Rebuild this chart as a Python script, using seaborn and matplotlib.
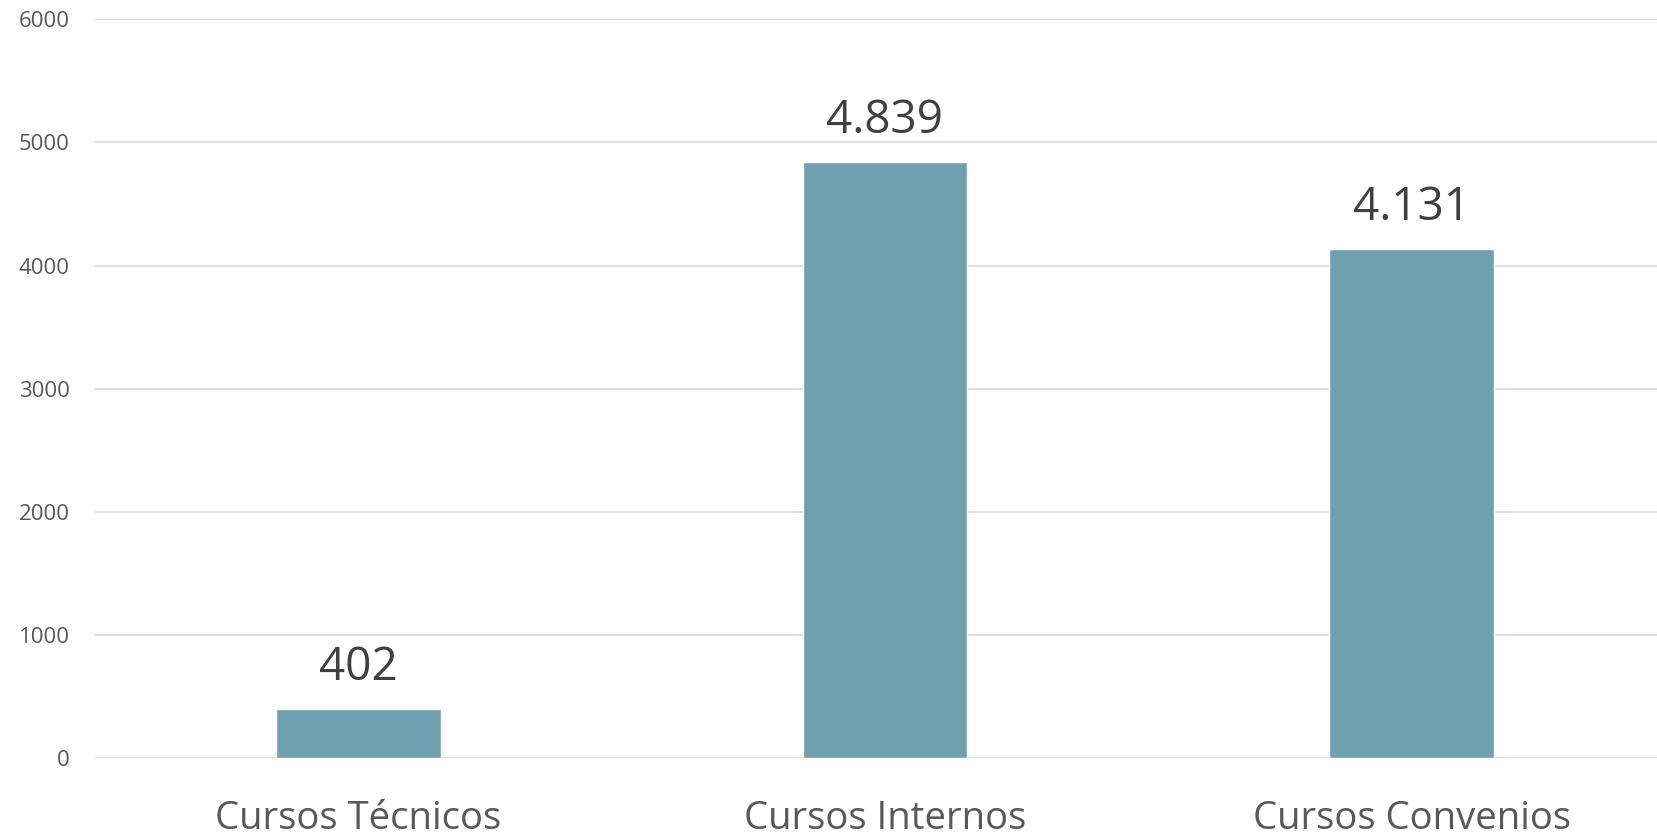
import matplotlib
matplotlib.use("Agg")
import matplotlib.pyplot as plt
import seaborn as sns
import pandas as pd

categorias = ["Cursos Técnicos", "Cursos Internos", "Cursos Convenios"]
valores = [402, 4839, 4131]
etiquetas = ["402", "4.839", "4.131"]
yticks = [0, 1000, 2000, 3000, 4000, 5000, 6000]

sns.set_style("white")
plt.rcParams["font.family"] = ["Open Sans", "DejaVu Sans"]

df = pd.DataFrame({"categoria": categorias, "valor": valores})

fig = plt.figure(figsize=(16.57, 8.36), dpi=100)
# axis runs past the right edge of the figure, as in the original
ax = fig.add_axes([0.0573, 0.093, 0.9535, 0.884])

sns.barplot(data=df, x="categoria", y="valor", color="#6fa0b0",
            saturation=1, width=0.313, ax=ax, zorder=3)

for p, txt in zip(ax.patches, etiquetas):
    ax.annotate(txt, (p.get_x() + p.get_width() / 2, p.get_height()),
                xytext=(0, 13), textcoords="offset points",
                ha="center", va="bottom", fontsize=33, color="#404040")

ax.set_ylim(0, 6000)
ax.set_yticks(yticks)
ax.set_xlim(-0.5, 2.5)
ax.grid(axis="y", color="#d9d9d9", lw=1.2, zorder=0)
sns.despine(ax=ax, left=True, bottom=True)
ax.tick_params(axis="y", labelsize=16, colors="#595959", pad=18, length=0)
ax.tick_params(axis="x", labelsize=27.5, colors="#595959", pad=30, length=0)
ax.set_xlabel("")
ax.set_ylabel("")

fig.savefig("out.png", dpi=100)
